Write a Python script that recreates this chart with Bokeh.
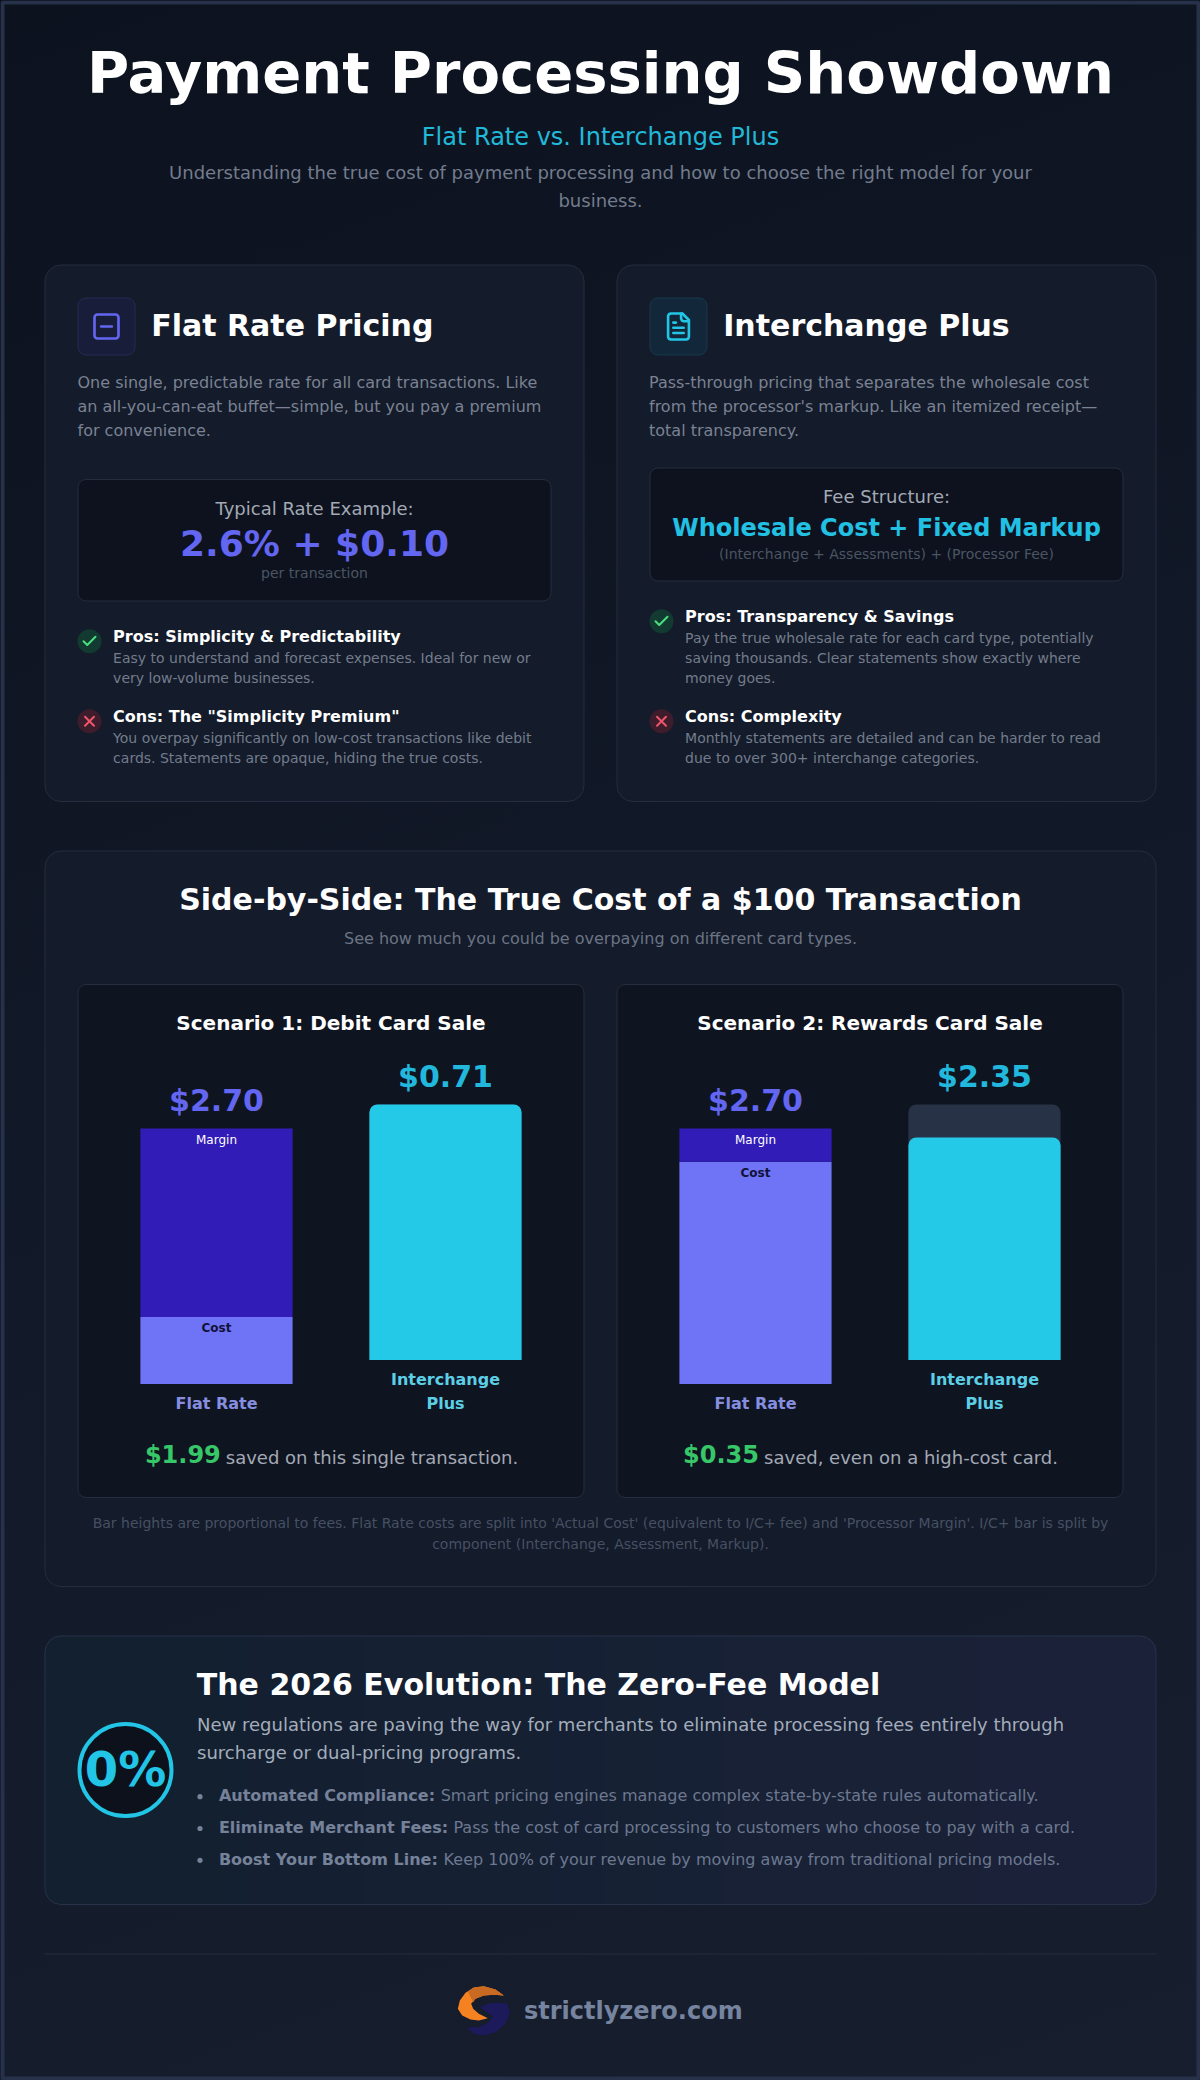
from bokeh.core.properties import value
from bokeh.embed import file_html
from bokeh.models import ColumnDataSource, Range1d
from bokeh.plotting import figure
from bokeh.resources import INLINE

FONT = value("DejaVu Sans")
W, H = 1200, 2080

# chart values
categories = ["Flat Rate", "Interchange Plus"]
scenarios = ["Scenario 1: Debit Card Sale", "Scenario 2: Rewards Card Sale"]
flat_cost = [0.71, 2.35]
flat_margin = [1.99, 0.35]
flat_total = ["$2.70", "$2.70"]
ic_label = ["$0.71", "$2.35"]
ic_drawn = [2.70, 2.35]
ic_track = [2.70, 2.70]
saved_value = ["$1.99", "$0.35"]
saved_text = ["saved on this single transaction.", "saved, even on a high-cost card."]

PX_PER_USD = 94.67
BAR_STEP = 229
BAR_WIDTH = 152.2 / BAR_STEP

p = figure(width=W, height=H, x_range=Range1d(0, W), y_range=Range1d(H, 0),
           x_axis_location=None, y_axis_location=None, toolbar_location=None,
           output_backend="svg", min_border=0,
           background_fill_alpha=0, border_fill_alpha=0, outline_line_color=None,
           styles={"position": "absolute", "left": "0", "top": "0",
                   "background": "linear-gradient(160deg, #0c121e 0%, #111827 45%, #171e2e 100%)"})
p.grid.visible = False


def label(x, y, text, size, color, bold=False, align="left"):
    # the svg text lands about a third of the font size under the asked baseline
    p.text(x=[x], y=[y - 0.36 * size], text=[text], text_font=FONT, text_font_size="{}px".format(size),
           text_font_style="bold" if bold else "normal", text_color=color,
           text_align=align, text_baseline="alphabetic")


def box(left, top, right, bottom, fill, line="#252d3e", radius=8, width=1):
    p.quad(left=[left], right=[right], top=[top], bottom=[bottom], fill_color=fill,
           line_color=line, line_width=width, border_radius=radius)


def icon(paths, cx, cy, s, color, width=2.0):
    for path in paths:
        p.line([cx + (a - 12) * s for a, b in path], [cy + (b - 12) * s for a, b in path],
               line_color=color, line_width=width, line_join="round", line_cap="round")


CHECK = [[(20, 6), (9, 17), (4, 12)]]
CROSS = [[(18, 6), (6, 18)], [(6, 6), (18, 18)]]
MINUS = [[(8, 12), (16, 12)]]
DOC = [[(15, 2), (6, 2), (4.6, 2.6), (4, 4), (4, 20), (4.6, 21.4), (6, 22), (18, 22), (19.4, 21.4),
        (20, 20), (20, 7), (15, 2)],
       [(14, 2), (14, 6), (14.6, 7.4), (16, 8), (20, 8)],
       [(10, 9), (8, 9)], [(16, 13), (8, 13)], [(16, 17), (8, 17)]]

# outer frame
p.quad(left=[2], right=[W - 2], top=[2], bottom=[H - 2], fill_alpha=0,
       line_color="#27314a", line_width=4)

# header
label(600, 94, "Payment Processing Showdown", 57.6, "#ffffff", True, "center")
label(600, 145.5, "Flat Rate vs. Interchange Plus", 24, "#22b8d8", False, "center")
label(600, 178, "Understanding the true cost of payment processing and how to choose the right model for your",
      18, "#737c8d", False, "center")
label(600, 206.8, "business.", 18, "#737c8d", False, "center")


def item(x, cy, pro, title, title_y, lines, body_y):
    fill = "#123a30" if pro else "#3d1c2c"
    color = "#4ade80" if pro else "#f0566a"
    p.circle(x=[x + 12], y=[cy], radius=12, fill_color=fill, line_color=None)
    icon(CHECK if pro else CROSS, x + 12, cy, 0.75, color, 2)
    label(x + 35.6, title_y - 1, title, 16, "#ffffff", True)
    for i, line in enumerate(lines):
        label(x + 35.6, body_y - 1 + i * 20, line, 14, "#737b8c")


# flat rate card
box(44.5, 264.5, 583.5, 801, "#141b2a", radius=16)
box(77.5, 297.5, 134.5, 354.5, "#181d3a", "#262b52", 8)
box(106 - 12, 326 - 12, 106 + 12, 326 + 12, None, "#6366f1", 3, 2.67)
icon(MINUS, 106, 326, 1.333, "#6366f1", 2.67)
label(150.7, 335.5, "Flat Rate Pricing", 30, "#ffffff", True)
for i, line in enumerate(["One single, predictable rate for all card transactions. Like",
                          "an all-you-can-eat buffet\u2014simple, but you pay a premium",
                          "for convenience."]):
    label(77, 388 + i * 24, line, 16, "#7a8293")
box(77.5, 479, 550.5, 600.5, "#0d121e")
label(314, 514.4, "Typical Rate Example:", 18, "#a3a9b5", False, "center")
label(314, 556.3, "2.6% + $0.10", 36, "#6366f1", True, "center")
label(314, 578, "per transaction", 14, "#4b5563", False, "center")
item(77, 640.8, True, "Pros: Simplicity & Predictability", 642.6,
     ["Easy to understand and forecast expenses. Ideal for new or", "very low-volume businesses."], 663.6)
item(77, 720.7, False, 'Cons: The "Simplicity Premium"', 722.5,
     ["You overpay significantly on low-cost transactions like debit",
      "cards. Statements are opaque, hiding the true costs."], 743.6)

# interchange plus card
box(616.5, 264.5, 1155.5, 801, "#141b2a", radius=16)
box(649.5, 297.5, 706.5, 354.5, "#12283a", "#17384a", 8)
icon(DOC, 678, 326, 1.3, "#22c5e5", 2.6)
label(722.7, 335.5, "Interchange Plus", 30, "#ffffff", True)
for i, line in enumerate(["Pass-through pricing that separates the wholesale cost",
                          "from the processor's markup. Like an itemized receipt\u2014",
                          "total transparency."]):
    label(648.5, 388 + i * 24, line, 16, "#7a8293")
box(649.5, 467.5, 1122.5, 580.5, "#0d121e")
label(886, 502.4, "Fee Structure:", 18, "#a3a9b5", False, "center")
label(886, 536, "Wholesale Cost + Fixed Markup", 24, "#22c0e2", True, "center")
label(886, 558.3, "(Interchange + Assessments) + (Processor Fee)", 14, "#4b5563", False, "center")
item(649, 620.8, True, "Pros: Transparency & Savings", 622.6,
     ["Pay the true wholesale rate for each card type, potentially",
      "saving thousands. Clear statements show exactly where", "money goes."], 643.7)
item(649, 720.7, False, "Cons: Complexity", 722.5,
     ["Monthly statements are detailed and can be harder to read",
      "due to over 300+ interchange categories."], 743.6)

# comparison panel
box(44.5, 850.5, 1155.5, 1586, "#141b2a", radius=16)
label(600, 909.3, "Side-by-Side: The True Cost of a $100 Transaction", 30, "#ffffff", True, "center")
label(600, 944, "See how much you could be overpaying on different card types.", 16, "#6b7484", False, "center")
label(600, 1527.7, "Bar heights are proportional to fees. Flat Rate costs are split into 'Actual Cost' (equivalent to I/C+ fee) and 'Processor Margin'. I/C+ bar is split by",
      14, "#465063", False, "center")
label(600, 1548.3, "component (Interchange, Assessment, Markup).", 14, "#465063", False, "center")

# the dollar scales of the bars, flat rate and interchange sit on different baselines
p.extra_y_ranges["flat"] = Range1d((1383.6 - H) / PX_PER_USD, 1383.6 / PX_PER_USD)
p.extra_y_ranges["ic"] = Range1d((1359.5 - H) / PX_PER_USD, 1359.5 / PX_PER_USD)

layout = [(77.5, 583.5, 216, 144.4, 225.3), (616.5, 1122.5, 755, 682.6, 763.6)]
for n, (left, right, first_bar, saved_x, text_x) in enumerate(layout):
    mid = (left + right) / 2
    p.extra_x_ranges["s%d" % n] = Range1d(-first_bar / BAR_STEP, (W - first_bar) / BAR_STEP)
    xname = "s%d" % n
    box(left, 984, right, 1497, "#0f1421")
    label(mid, 1029.2, scenarios[n], 20, "#ffffff", True, "center")

    flat = ColumnDataSource(data={"x": [0], "cost": [flat_cost[n]], "margin": [flat_margin[n]],
                                  "total": [flat_cost[n] + flat_margin[n]]})
    p.vbar(x="x", bottom=0, top="cost", width=BAR_WIDTH, source=flat, fill_color="#6f73f5",
           line_color=None, x_range_name=xname, y_range_name="flat")
    p.vbar(x="x", bottom="cost", top="total", width=BAR_WIDTH, source=flat, fill_color="#311cb8",
           line_color=None, x_range_name=xname, y_range_name="flat")

    ic = ColumnDataSource(data={"x": [1], "track": [ic_track[n]], "fee": [ic_drawn[n]]})
    p.vbar(x="x", bottom=0, top="track", width=BAR_WIDTH, source=ic, fill_color="#283246",
           line_color=None, border_radius=(8, 8, 0, 0), x_range_name=xname, y_range_name="ic")
    p.vbar(x="x", bottom=0, top="fee", width=BAR_WIDTH, source=ic, fill_color="#25c9e8",
           line_color=None, border_radius=(8, 8, 0, 0), x_range_name=xname, y_range_name="ic")

    x0, x1 = first_bar, first_bar + BAR_STEP
    margin_top = 1383.6 - (flat_cost[n] + flat_margin[n]) * PX_PER_USD
    cost_top = 1383.6 - flat_cost[n] * PX_PER_USD
    label(x0, margin_top - 17.5, flat_total[n], 30, "#6366f1", True, "center")
    label(x1, 1087, ic_label[n], 30, "#22b8dd", True, "center")
    label(x0, margin_top + 15.9, "Margin", 12, "#ffffff", False, "center")
    label(x0, cost_top + 15.5, "Cost", 12, "#11123a", True, "center")
    label(x0, 1409, categories[0], 16, "#868ee0", True, "center")
    label(x1, 1385, "Interchange", 16, "#5ccfe6", True, "center")
    label(x1, 1409, "Plus", 16, "#5ccfe6", True, "center")
    label(saved_x, 1463.5, saved_value[n], 24, "#38c768", True)
    label(text_x, 1463.5, saved_text[n], 18, "#a3a9b5")

# zero fee panel, the gradient is built of thin strips
TEAL = (18, 32, 47)
INDIGO = (27, 33, 57)
box(44.5, 1635.5, 600, 1904, "#12202f", None, 16)
box(600, 1635.5, 1155.5, 1904, "#1b2139", None, 16)
strip_left = list(range(60, 1140, 8))
strip_color = []
for sx in strip_left:
    t = (sx - 60) / 1080
    strip_color.append("#%02x%02x%02x" % tuple(round(a + (b - a) * t) for a, b in zip(TEAL, INDIGO)))
p.quad(left=strip_left, right=[sx + 9 for sx in strip_left], top=1636, bottom=1904,
       fill_color=strip_color, line_color=None)
box(44.5, 1635.5, 1155.5, 1904, None, "#27334a", 16)

p.circle(x=[125], y=[1769.6], radius=46, fill_color="#0c111c", line_color="#22c5e5", line_width=4)
label(125, 1785.7, "0%", 48, "#22c5e5", True, "center")
label(196.3, 1695, "The 2026 Evolution: The Zero-Fee Model", 30, "#ffffff", True)
label(196.5, 1730.7, "New regulations are paving the way for merchants to eliminate processing fees entirely through",
      18, "#a3adbb")
label(196.5, 1758.5, "surcharge or dual-pricing programs.", 18, "#a3adbb")
bullets = [("Automated Compliance:", " Smart pricing engines manage complex state-by-state rules automatically.", 1800.7, 440.2),
           ("Eliminate Merchant Fees:", " Pass the cost of card processing to customers who choose to pay with a card.", 1832.5, 452.9),
           ("Boost Your Bottom Line:", " Keep 100% of your revenue by moving away from traditional pricing models.", 1864.3, 443.1)]
for head, rest, y, rest_x in bullets:
    p.circle(x=[199.5], y=[y - 4.5], radius=2.6, fill_color="#76829a", line_color=None)
    label(218.4, y, head, 16, "#76829a", True)
    label(rest_x, y, rest.strip(), 16, "#6c788f")

# footer
p.line([44, 1156], [1953.5, 1953.5], line_color="#252e3f", line_width=1)


def logo(points, color):
    p.patch([450 + a / 3 for a, b in points], [1975 + b / 3 for a, b in points],
            fill_color=color, line_color=None)


logo([(170, 85), (178, 110), (165, 145), (135, 170), (100, 180), (70, 175), (50, 155), (85, 155),
      (115, 140), (128, 122), (105, 108), (90, 95), (110, 85), (140, 82)], "#1d1a5c")
logo([(160, 60), (135, 42), (100, 32), (70, 36), (45, 52), (28, 75), (22, 100), (35, 120), (60, 132),
      (85, 135), (112, 128), (85, 115), (68, 100), (62, 85), (75, 70), (100, 60), (130, 58)], "#f58220")
logo([(160, 60), (135, 42), (100, 32), (70, 36), (52, 48), (68, 80), (75, 70), (100, 60), (130, 58)], "#c96a22")
label(523.4, 2018.7, "strictlyzero.com", 24, "#76849f", True)

open("out.html", "w").write(file_html(p, INLINE))
